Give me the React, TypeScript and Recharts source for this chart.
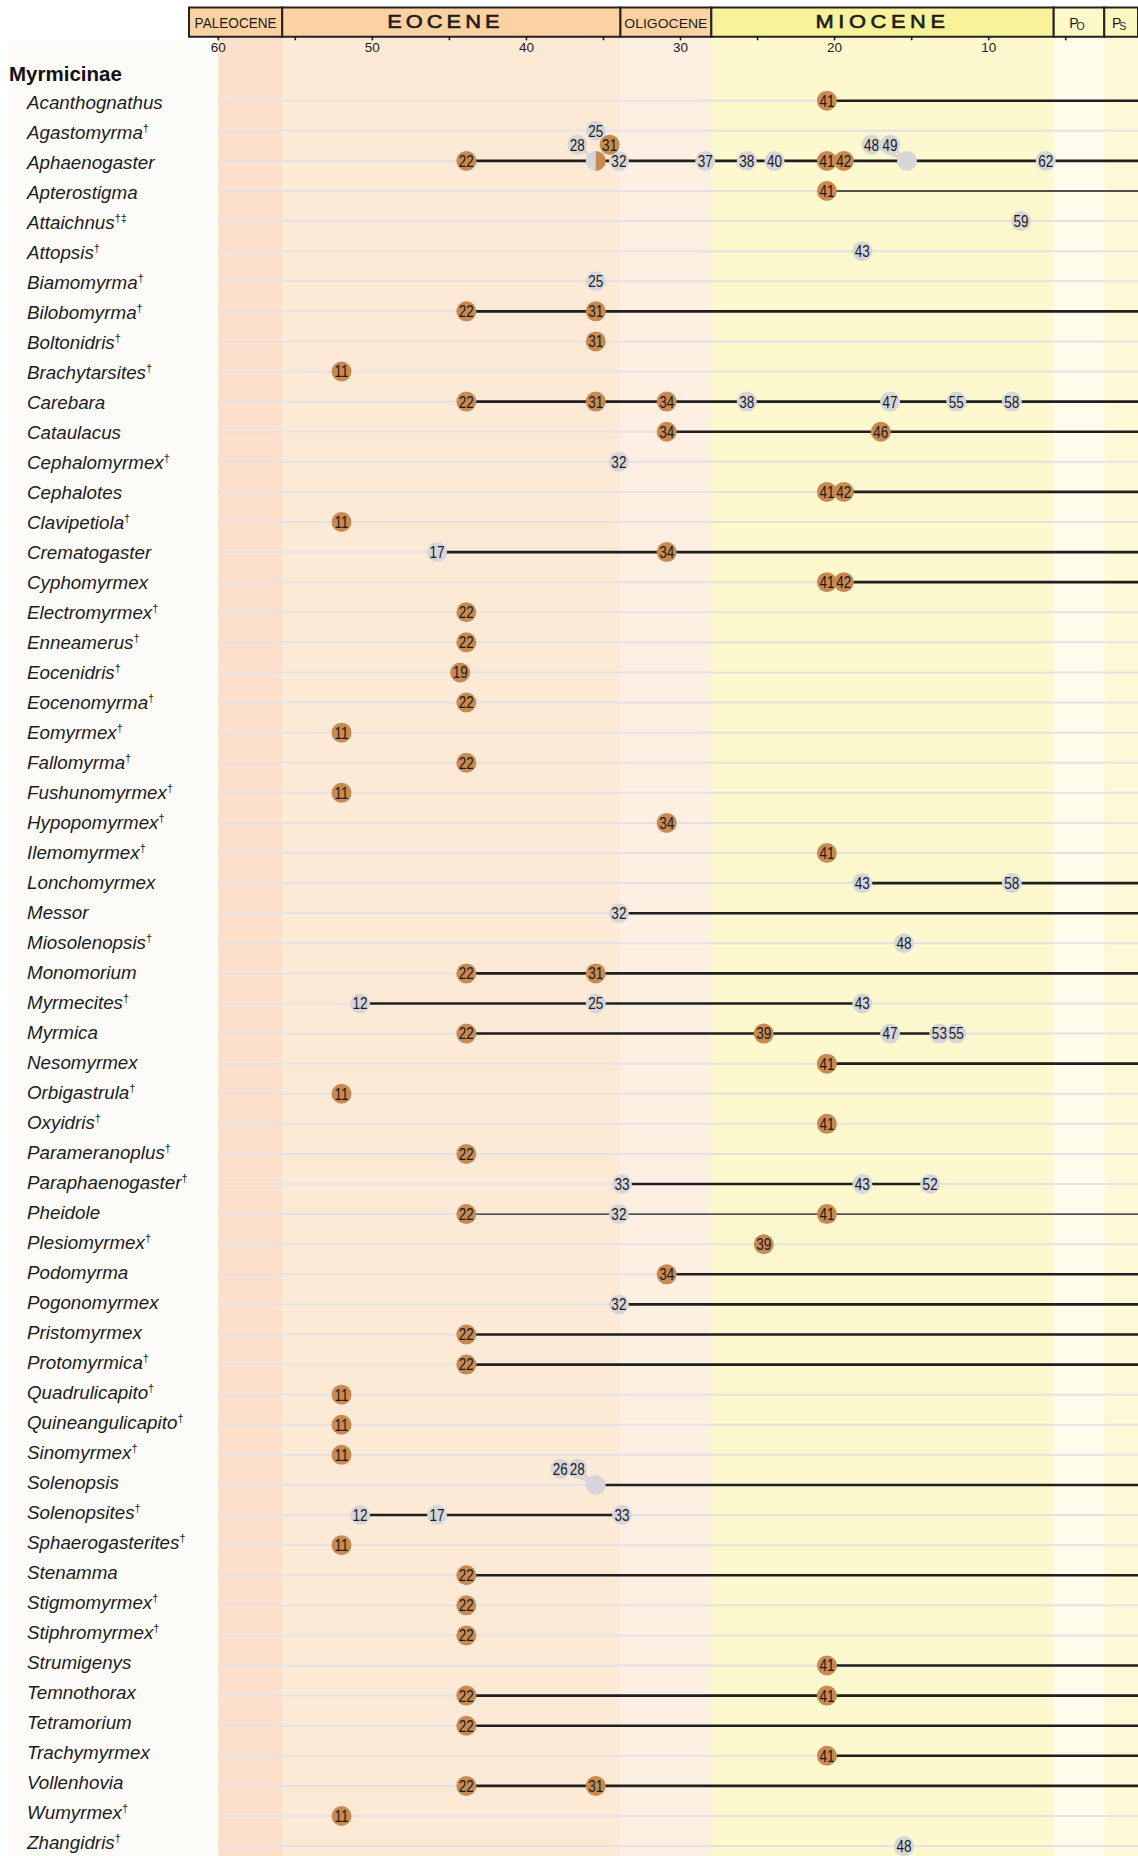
import { ReferenceArea, ReferenceLine, Scatter, ScatterChart, XAxis, YAxis } from "recharts";

const FONT = '"Liberation Sans", Arial, Helvetica, sans-serif';
const ORANGE = "#c98a52";
const GREY = "#d6d6da";
const INK = "#1c1c1c";

const SUBFAMILY = "Myrmicinae";

const GENERA = [
  "Acanthognathus", "Agastomyrma†", "Aphaenogaster", "Apterostigma", "Attaichnus†‡",
  "Attopsis†", "Biamomyrma†", "Bilobomyrma†", "Boltonidris†", "Brachytarsites†",
  "Carebara", "Cataulacus", "Cephalomyrmex†", "Cephalotes", "Clavipetiola†",
  "Crematogaster", "Cyphomyrmex", "Electromyrmex†", "Enneamerus†", "Eocenidris†",
  "Eocenomyrma†", "Eomyrmex†", "Fallomyrma†", "Fushunomyrmex†", "Hypopomyrmex†",
  "Ilemomyrmex†", "Lonchomyrmex", "Messor", "Miosolenopsis†", "Monomorium",
  "Myrmecites†", "Myrmica", "Nesomyrmex", "Orbigastrula†", "Oxyidris†",
  "Parameranoplus†", "Paraphaenogaster†", "Pheidole", "Plesiomyrmex†", "Podomyrma",
  "Pogonomyrmex", "Pristomyrmex", "Protomyrmica†", "Quadrulicapito†", "Quineangulicapito†",
  "Sinomyrmex†", "Solenopsis", "Solenopsites†", "Sphaerogasterites†", "Stenamma",
  "Stigmomyrmex†", "Stiphromyrmex†", "Strumigenys", "Temnothorax", "Tetramorium",
  "Trachymyrmex", "Vollenhovia", "Wumyrmex†", "Zhangidris†",
];

// fossil deposits and their ages (Ma)
const DEPOSITS = [11, 12, 17, 19, 22, 25, 31, 32, 33, 34, 37, 38, 39, 40, 41, 42, 43, 46, 47, 48, 52, 53, 55, 58, 59, 62];
const DEPOSIT_AGES = [52.0, 50.8, 45.8, 44.3, 43.9, 35.5, 35.5, 34.0, 33.8, 30.9, 28.4, 25.7, 24.6, 23.9, 20.5, 19.4, 18.2, 17.0, 16.4, 15.5, 13.8, 13.2, 12.1, 8.5, 7.9, 6.3];
const AMBER_DEPOSITS = [11, 19, 22, 31, 34, 39, 41, 42, 46];

// deposits recorded for each genus, same order as GENERA
const RECORDS: number[][] = [
  [41], [25], [22, 32, 37, 38, 40, 41, 42, 62], [41], [59],
  [43], [25], [22, 31], [31], [11],
  [22, 31, 34, 38, 47, 55, 58], [34, 46], [32], [41, 42], [11],
  [17, 34], [41, 42], [22], [22], [19],
  [22], [11], [22], [11], [34],
  [41], [43, 58], [32], [48], [22, 31],
  [12, 25, 43], [22, 39, 47, 53, 55], [41], [11], [41],
  [22], [33, 43, 52], [22, 32, 41], [39], [34],
  [32], [22], [22], [11], [11],
  [11], [], [12, 17, 33], [11], [22],
  [22], [22], [41], [22, 41], [22],
  [41], [22, 31], [11], [48],
];

const EXTANT = [
  "Acanthognathus", "Aphaenogaster", "Apterostigma", "Bilobomyrma†", "Carebara", "Cataulacus",
  "Cephalotes", "Crematogaster", "Cyphomyrmex", "Lonchomyrmex", "Messor", "Monomorium",
  "Nesomyrmex", "Pheidole", "Podomyrma", "Pogonomyrmex", "Pristomyrmex", "Protomyrmica†",
  "Solenopsis", "Stenamma", "Strumigenys", "Temnothorax", "Tetramorium", "Trachymyrmex", "Vollenhovia",
];
const THIN_LINES = ["Apterostigma", "Pheidole"];

// unlabelled merged markers
const CLUSTER_GENUS = ["Aphaenogaster", "Aphaenogaster", "Solenopsis"];
const CLUSTER_AGE = [35.5, 15.3, 35.5];
const CLUSTER_KIND = ["split", "grey", "grey"];

// labels raised above a merged marker
const LIFTED_GENUS = ["Aphaenogaster", "Aphaenogaster", "Aphaenogaster", "Aphaenogaster", "Solenopsis", "Solenopsis"];
const LIFTED_DEPOSIT = [28, 31, 48, 49, 26, 28];
const LIFTED_AGE = [36.7, 34.6, 17.6, 16.4, 37.8, 36.7];
const LIFTED_TO = [35.5, 35.5, 15.3, 15.3, 35.5, 35.5];

const EPOCHS = ["PALEOCENE", "EOCENE", "OLIGOCENE", "MIOCENE", "Po", "Ps"];
const EPOCH_START = [61.9, 55.85, 33.9, 28.0, 5.78, 2.5];
const EPOCH_END = [55.85, 33.9, 28.0, 5.78, 2.5, 0.31];
const EPOCH_FILL = ["#fcd2a3", "#fcd2a3", "#fcd2a3", "#f8f29a", "#fdf9c9", "#fcf7bf"];
const BAND_FILL = ["#fde0cc", "#fdead6", "#fdefe1", "#fdf8cd", "#fefcea", "#fdf9d6"];

const AGE_TICKS = [60, 55, 50, 45, 40, 35, 30, 25, 20, 15, 10, 5];

const X_DOMAIN: [number, number] = [0.31, 61.9];
const Y_DOMAIN: [number, number] = [-2.346, 59.33];
const HEADER_TOP = -2.1;
const HEADER_BOTTOM = -1.127;
const TICK_LEN = 0.12;
const LIFT = 0.54;

const ageOf = (d: number) => DEPOSIT_AGES[DEPOSITS.indexOf(d)];
const colorOf = (d: number) => (AMBER_DEPOSITS.includes(d) ? ORANGE : GREY);
const rowOf = (g: string) => GENERA.indexOf(g) + 1;

const points = [
  ...CLUSTER_GENUS.map((g, i) => ({ x: CLUSTER_AGE[i], y: rowOf(g), label: "", kind: CLUSTER_KIND[i] })),
  ...RECORDS.flatMap((ds, i) => ds.map((d) => ({ x: ageOf(d), y: i + 1, label: String(d), kind: colorOf(d) }))),
  ...LIFTED_GENUS.map((g, i) => ({
    x: LIFTED_AGE[i],
    y: rowOf(g) - LIFT,
    label: String(LIFTED_DEPOSIT[i]),
    kind: colorOf(LIFTED_DEPOSIT[i]),
  })),
];

const ranges = GENERA.map((g, i) => {
  const ages = [
    ...RECORDS[i].map(ageOf),
    ...CLUSTER_AGE.filter((_, k) => CLUSTER_GENUS[k] === g),
  ];
  const from = Math.max(...ages);
  const to = EXTANT.includes(g) ? X_DOMAIN[0] : Math.min(...ages);
  return { row: i + 1, from, to, thin: THIN_LINES.includes(g) };
}).filter((r) => r.to < r.from);

function GenusTick({ y, payload }: any) {
  const row = payload.value as number;
  if (row === 0) {
    return (
      <text x={9} y={y + 10.5} fontSize={20.5} fontWeight="bold" fill="#111" fontFamily={FONT}>
        {SUBFAMILY}
      </text>
    );
  }
  const m = GENERA[row - 1].match(/^(.*?)([†‡]*)$/) as RegExpMatchArray;
  // the names sit a touch closer together than the grid rows
  const base = y + 8.6 - (row - 1) * 0.09;
  return (
    <text x={27} y={base} fontSize={18.8} fontStyle="italic" fill={INK} fontFamily={FONT}>
      {m[1]}
      {m[2] && (
        <tspan fontSize={11} fontStyle="normal" dy={-7}>
          {m[2]}
        </tspan>
      )}
    </text>
  );
}

function AgeLabel({ viewBox, value }: any) {
  if (value % 10 !== 0) return null;
  return (
    <text x={viewBox.x} y={51.5} textAnchor="middle" fontSize={13.5} fill={INK} fontFamily={FONT}>
      {value}
    </text>
  );
}

function EpochLabel({ viewBox, name }: any) {
  const cx = viewBox.x + viewBox.width / 2;
  const base = viewBox.y + 21;
  if (name === "Po" || name === "Ps") {
    return (
      <text x={cx - 2} y={base} textAnchor="middle" fontSize={14} fill={INK} fontFamily={FONT}>
        {name[0]}
        <tspan fontSize={10.5} dy={2} dx={-2}>
          {name[1] === "o" ? "O" : "S"}
        </tspan>
      </text>
    );
  }
  if (name === "EOCENE" || name === "MIOCENE") {
    // wide, tracked capitals
    const shift = name === "EOCENE" ? -6 : 0;
    return (
      <text
        transform={`translate(${cx + shift} ${base}) scale(1.15 1)`}
        textAnchor="middle"
        fontSize={19}
        letterSpacing={name === "EOCENE" ? 3.5 : 4}
        fill={INK}
        stroke={INK}
        strokeWidth={0.6}
        fontFamily={FONT}
      >
        {name}
      </text>
    );
  }
  return (
    <text
      x={cx}
      y={base}
      textAnchor="middle"
      fontSize={name === "PALEOCENE" ? 15.5 : 13}
      fill={INK}
      fontFamily={FONT}
      textLength={name === "PALEOCENE" ? 82 : 83}
      lengthAdjust="spacingAndGlyphs"
    >
      {name}
    </text>
  );
}

function Marker({ cx, cy, payload }: any) {
  const r = 10;
  if (payload.kind === "split") {
    return (
      <g>
        <path d={`M${cx},${cy - r} A${r},${r} 0 0 0 ${cx},${cy + r} Z`} fill={GREY} />
        <path d={`M${cx},${cy - r} A${r},${r} 0 0 1 ${cx},${cy + r} Z`} fill={ORANGE} />
      </g>
    );
  }
  const fill = payload.kind === "grey" ? GREY : payload.kind;
  return (
    <g>
      <circle cx={cx} cy={cy} r={r} fill={fill} />
      {payload.label && (
        <text
          transform={`translate(${cx} ${cy + 5.9}) scale(0.82 1)`}
          textAnchor="middle"
          fontSize={16.5}
          fill={INK}
          fontFamily={FONT}
        >
          {payload.label}
        </text>
      )}
    </g>
  );
}

export default function App() {
  const rows = Array.from({ length: GENERA.length + 1 }, (_, i) => i);
  return (
    <div style={{ position: "relative", width: 1138, height: 1856, background: "#fff" }}>
      <style>{"body{margin:0}"}</style>
      <div
        style={{ position: "absolute", left: 8, top: 40, width: 210, height: 1816, background: "#fcfbf8" }}
      />
      <div style={{ position: "absolute", left: 0, top: 0 }}>
        <ScatterChart width={1138} height={1856} margin={{ top: 0, right: 0, bottom: 0, left: 0 }}>
          <XAxis type="number" dataKey="x" domain={X_DOMAIN} reversed allowDataOverflow hide />
          <YAxis
            type="number"
            dataKey="y"
            domain={Y_DOMAIN}
            reversed
            allowDataOverflow
            width={189}
            ticks={rows}
            interval={0}
            axisLine={false}
            tickLine={false}
            tick={(p: any) => <GenusTick {...p} />}
          />
          {BAND_FILL.map((c, i) => (
            <ReferenceArea
              key={`band-${i}`}
              x1={i === 0 ? 60 : EPOCH_START[i]}
              x2={EPOCH_END[i]}
              y1={HEADER_BOTTOM}
              y2={Y_DOMAIN[1]}
              fill={c}
              fillOpacity={1}
              stroke="none"
              ifOverflow="visible"
            />
          ))}
          {rows.slice(1).map((r) => (
            <ReferenceLine
              key={`grid-${r}`}
              segment={[{ x: 60, y: r }, { x: X_DOMAIN[0], y: r }]}
              stroke="#e6e2e3"
              strokeWidth={2}
              ifOverflow="visible"
            />
          ))}
          {EPOCHS.map((name, i) => (
            <ReferenceArea
              key={`epoch-${i}`}
              x1={EPOCH_START[i]}
              x2={EPOCH_END[i]}
              y1={HEADER_TOP}
              y2={HEADER_BOTTOM}
              fill={EPOCH_FILL[i]}
              fillOpacity={1}
              stroke="#222"
              strokeWidth={2}
              ifOverflow="visible"
              label={(p: any) => <EpochLabel viewBox={p.viewBox} name={name} />}
            />
          ))}
          {AGE_TICKS.map((t) => (
            <ReferenceLine
              key={`tick-${t}`}
              segment={[{ x: t, y: HEADER_BOTTOM }, { x: t, y: HEADER_BOTTOM + TICK_LEN }]}
              stroke={INK}
              strokeWidth={1.6}
              ifOverflow="visible"
              label={(p: any) => <AgeLabel viewBox={p.viewBox} value={t} />}
            />
          ))}
          {ranges.map((r) => (
            <ReferenceLine
              key={`range-${r.row}`}
              segment={[{ x: r.from, y: r.row }, { x: r.to, y: r.row }]}
              stroke="#1f1f1f"
              strokeWidth={r.thin ? 1.4 : 2.6}
              ifOverflow="visible"
            />
          ))}
          {LIFTED_GENUS.map((g, i) => (
            <ReferenceLine
              key={`lift-${i}`}
              segment={[
                { x: LIFTED_AGE[i], y: rowOf(g) - LIFT },
                { x: LIFTED_TO[i], y: rowOf(g) },
              ]}
              stroke={GREY}
              strokeWidth={3}
              ifOverflow="visible"
            />
          ))}
          <Scatter data={points} shape={(p: any) => <Marker {...p} />} isAnimationActive={false} />
        </ScatterChart>
      </div>
    </div>
  );
}
